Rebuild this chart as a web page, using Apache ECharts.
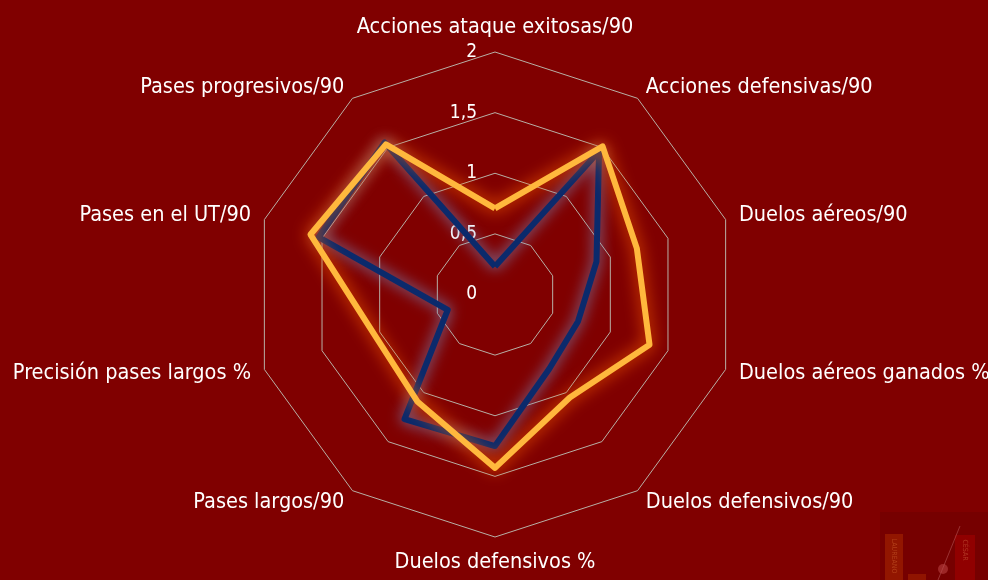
<!DOCTYPE html>
<html>
<head>
<meta charset="utf-8">
<script src="https://cdn.jsdelivr.net/npm/echarts@6/dist/echarts.min.js"></script>
<style>
  html, body { margin: 0; padding: 0; background: #800000; }
  #chart { width: 988px; height: 580px; }
</style>
</head>
<body>
<div id="chart"></div>
<script>
// Indicator names, in the radar's drawing order (counter-clockwise from the top)
const indicatorNames = [
  'Acciones ataque exitosas/90',
  'Pases progresivos/90',
  'Pases en el UT/90',
  'Precisión pases largos %',
  'Pases largos/90',
  'Duelos defensivos %',
  'Duelos defensivos/90',
  'Duelos aéreos ganados %',
  'Duelos aéreos/90',
  'Acciones defensivas/90'
];

// Values per 90 minutes / percentages, normalised to the 0–2 scale
const valuesAzul = [0.23, 1.55, 1.53, 0.41, 1.27, 1.25, 0.76, 0.72, 0.88, 1.46];
const valuesNaranja = [0.71, 1.53, 1.60, 1.05, 1.09, 1.43, 1.05, 1.34, 1.23, 1.51];

// Scale of the radar axes
const axisMin = 0;
const axisMax = 2;
const axisSplits = 4;

const FONT = '"DejaVu Sans Condensed", "Liberation Sans Narrow", sans-serif';

const chart = echarts.init(document.getElementById('chart'), null, { renderer: 'canvas' });

const indicators = indicatorNames.map((name, i) => {
  const ind = { name: name, min: axisMin, max: axisMax };
  // only the vertical axis carries the scale labels
  if (i === 0) ind.axisLabel = { show: true };
  return ind;
});

chart.setOption({
  backgroundColor: '#800000',
  animation: false,
  radar: {
    center: [495, 294.5],
    radius: 242.5,
    startAngle: 90,
    splitNumber: axisSplits,
    shape: 'polygon',
    indicator: indicators,
    axisNameGap: 14,
    axisName: {
      color: '#ffffff',
      fontSize: 21.5,
      fontFamily: FONT
    },
    axisLine: { show: false },
    axisTick: { show: false },
    axisLabel: {
      show: false,
      color: '#ffffff',
      fontSize: 19,
      fontFamily: FONT,
      margin: 18,
      formatter: v => String(v).replace('.', ',')
    },
    splitArea: { show: false },
    splitLine: { lineStyle: { color: '#b8b0a6', width: 1 } }
  },
  graphic: [
    {
      type: 'group',
      left: 880,
      top: 512,
      silent: true,
      children: [
        { type: 'rect', shape: { x: 0, y: 0, width: 108, height: 68 }, style: { fill: 'rgba(110,0,0,0.55)' } },
        { type: 'rect', shape: { x: 5, y: 22, width: 18, height: 46 }, style: { fill: 'rgba(170,40,0,0.55)' } },
        { type: 'text', x: 14, y: 44, rotation: -Math.PI / 2, style: { text: 'LAUREANO', fill: 'rgba(200,90,40,0.6)', fontSize: 7, fontFamily: FONT, align: 'center', verticalAlign: 'middle' } },
        { type: 'rect', shape: { x: 75, y: 23, width: 20, height: 45 }, style: { fill: 'rgba(170,0,0,0.5)' } },
        { type: 'text', x: 85, y: 38, rotation: -Math.PI / 2, style: { text: 'CÉSAR', fill: 'rgba(200,90,60,0.6)', fontSize: 7, fontFamily: FONT, align: 'center', verticalAlign: 'middle' } },
        { type: 'line', shape: { x1: 80, y1: 14, x2: 58, y2: 68 }, style: { stroke: 'rgba(200,110,110,0.45)', lineWidth: 1 } },
        { type: 'circle', shape: { cx: 63, cy: 57, r: 5 }, style: { fill: 'rgba(190,70,70,0.55)' } },
        { type: 'rect', shape: { x: 28, y: 62, width: 18, height: 6 }, style: { fill: 'rgba(170,40,0,0.5)' } }
      ]
    }
  ],
  series: [
    {
      type: 'radar',
      symbol: 'none',
      z: 2,
      data: [
        {
          name: 'Azul',
          value: valuesAzul,
          lineStyle: {
            color: '#0b2a6c',
            width: 6,
            shadowBlur: 14,
            shadowColor: 'rgba(120,140,190,1)'
          },
          areaStyle: { opacity: 0 }
        }
      ]
    },
    {
      type: 'radar',
      symbol: 'none',
      z: 3,
      data: [
        {
          name: 'Naranja',
          value: valuesNaranja,
          lineStyle: {
            color: '#ffb83d',
            width: 6,
            shadowBlur: 16,
            shadowColor: 'rgba(255,100,0,1)'
          },
          areaStyle: { opacity: 0 }
        }
      ]
    }
  ]
});
</script>
</body>
</html>
